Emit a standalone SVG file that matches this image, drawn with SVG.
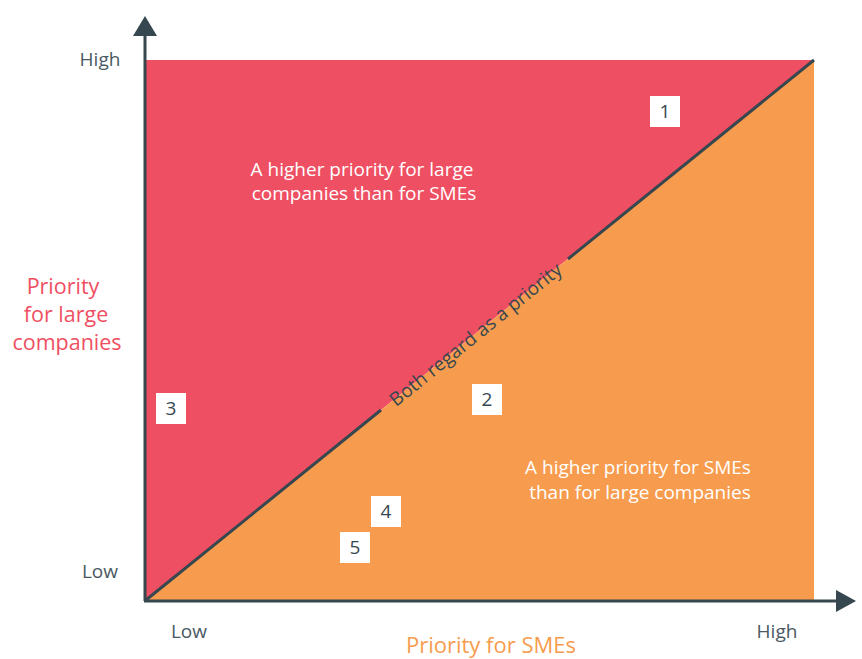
<svg xmlns="http://www.w3.org/2000/svg" width="862" height="659" viewBox="0 0 862 659">
  <style>
    text { font-family: "Open Sans", "Noto Sans", "Liberation Sans", sans-serif; }
    .axis { stroke: #37474f; stroke-width: 3; fill: none; }
    .tick { font-size: 19px; fill: #4a5a62; text-anchor: middle; }
    .zone { font-size: 19px; fill: #ffffff; text-anchor: middle; }
    .badge rect { fill: #ffffff; }
    .badge text { font-size: 19px; fill: #37474f; text-anchor: middle; }
    .title-red { font-size: 21.5px; fill: #ef4f62; text-anchor: middle; }
    .title-orange { font-size: 22px; fill: #f79c4e; text-anchor: middle; }
  </style>

  <!-- quadrant fills -->
  <g id="zone-large">
    <polygon points="146,60 814,60 146,600" fill="#ef4f62"/>
    <text class="zone" x="362" y="176">A higher priority for large</text>
    <text class="zone" x="364" y="200">companies than for SMEs</text>
  </g>
  <g id="zone-smes">
    <polygon points="146,600 814,60 814,600" fill="#f79c4e"/>
    <text class="zone" x="638" y="474">A higher priority for SMEs</text>
    <text class="zone" x="640" y="499">than for large companies</text>
  </g>

  <!-- diagonal and axes -->
  <g id="connectors">
    <line class="axis" x1="146" y1="600" x2="381" y2="410"/>
    <line class="axis" x1="568" y1="259" x2="814" y2="60"/>
    <line class="axis" x1="145" y1="601" x2="145" y2="34"/>
    <polygon points="145,16 133,36 157,36" fill="#37474f"/>
    <line class="axis" x1="144" y1="601" x2="838" y2="601"/>
    <polygon points="856,601 836,590 836,612" fill="#37474f"/>
  </g>

  <g id="diagonal-label">
    <text x="476" y="341" font-size="19" fill="#37474f" text-anchor="middle" transform="rotate(-38.96 476 335)">Both regard as a priority</text>
  </g>

  <!-- axis ticks -->
  <g id="ticks">
    <text class="tick" x="100" y="66">High</text>
    <text class="tick" x="100" y="578">Low</text>
    <text class="tick" x="189" y="638">Low</text>
    <text class="tick" x="777" y="638">High</text>
  </g>

  <g id="axis-titles">
    <text class="title-red" x="63" y="294">Priority</text>
    <text class="title-red" x="66" y="322">for large</text>
    <text class="title-red" x="67" y="350">companies</text>
    <text class="title-orange" x="491" y="653">Priority for SMEs</text>
  </g>

  <!-- numbered markers -->
  <g id="badge-1" class="badge"><rect x="650" y="96" width="30" height="31"/><text x="665" y="118">1</text></g>
  <g id="badge-2" class="badge"><rect x="472" y="384" width="30" height="31"/><text x="487" y="406">2</text></g>
  <g id="badge-3" class="badge"><rect x="156" y="393" width="30" height="31"/><text x="171" y="415">3</text></g>
  <g id="badge-4" class="badge"><rect x="371" y="496" width="30" height="31"/><text x="386" y="518">4</text></g>
  <g id="badge-5" class="badge"><rect x="340" y="532" width="30" height="31"/><text x="355" y="554">5</text></g>
</svg>
